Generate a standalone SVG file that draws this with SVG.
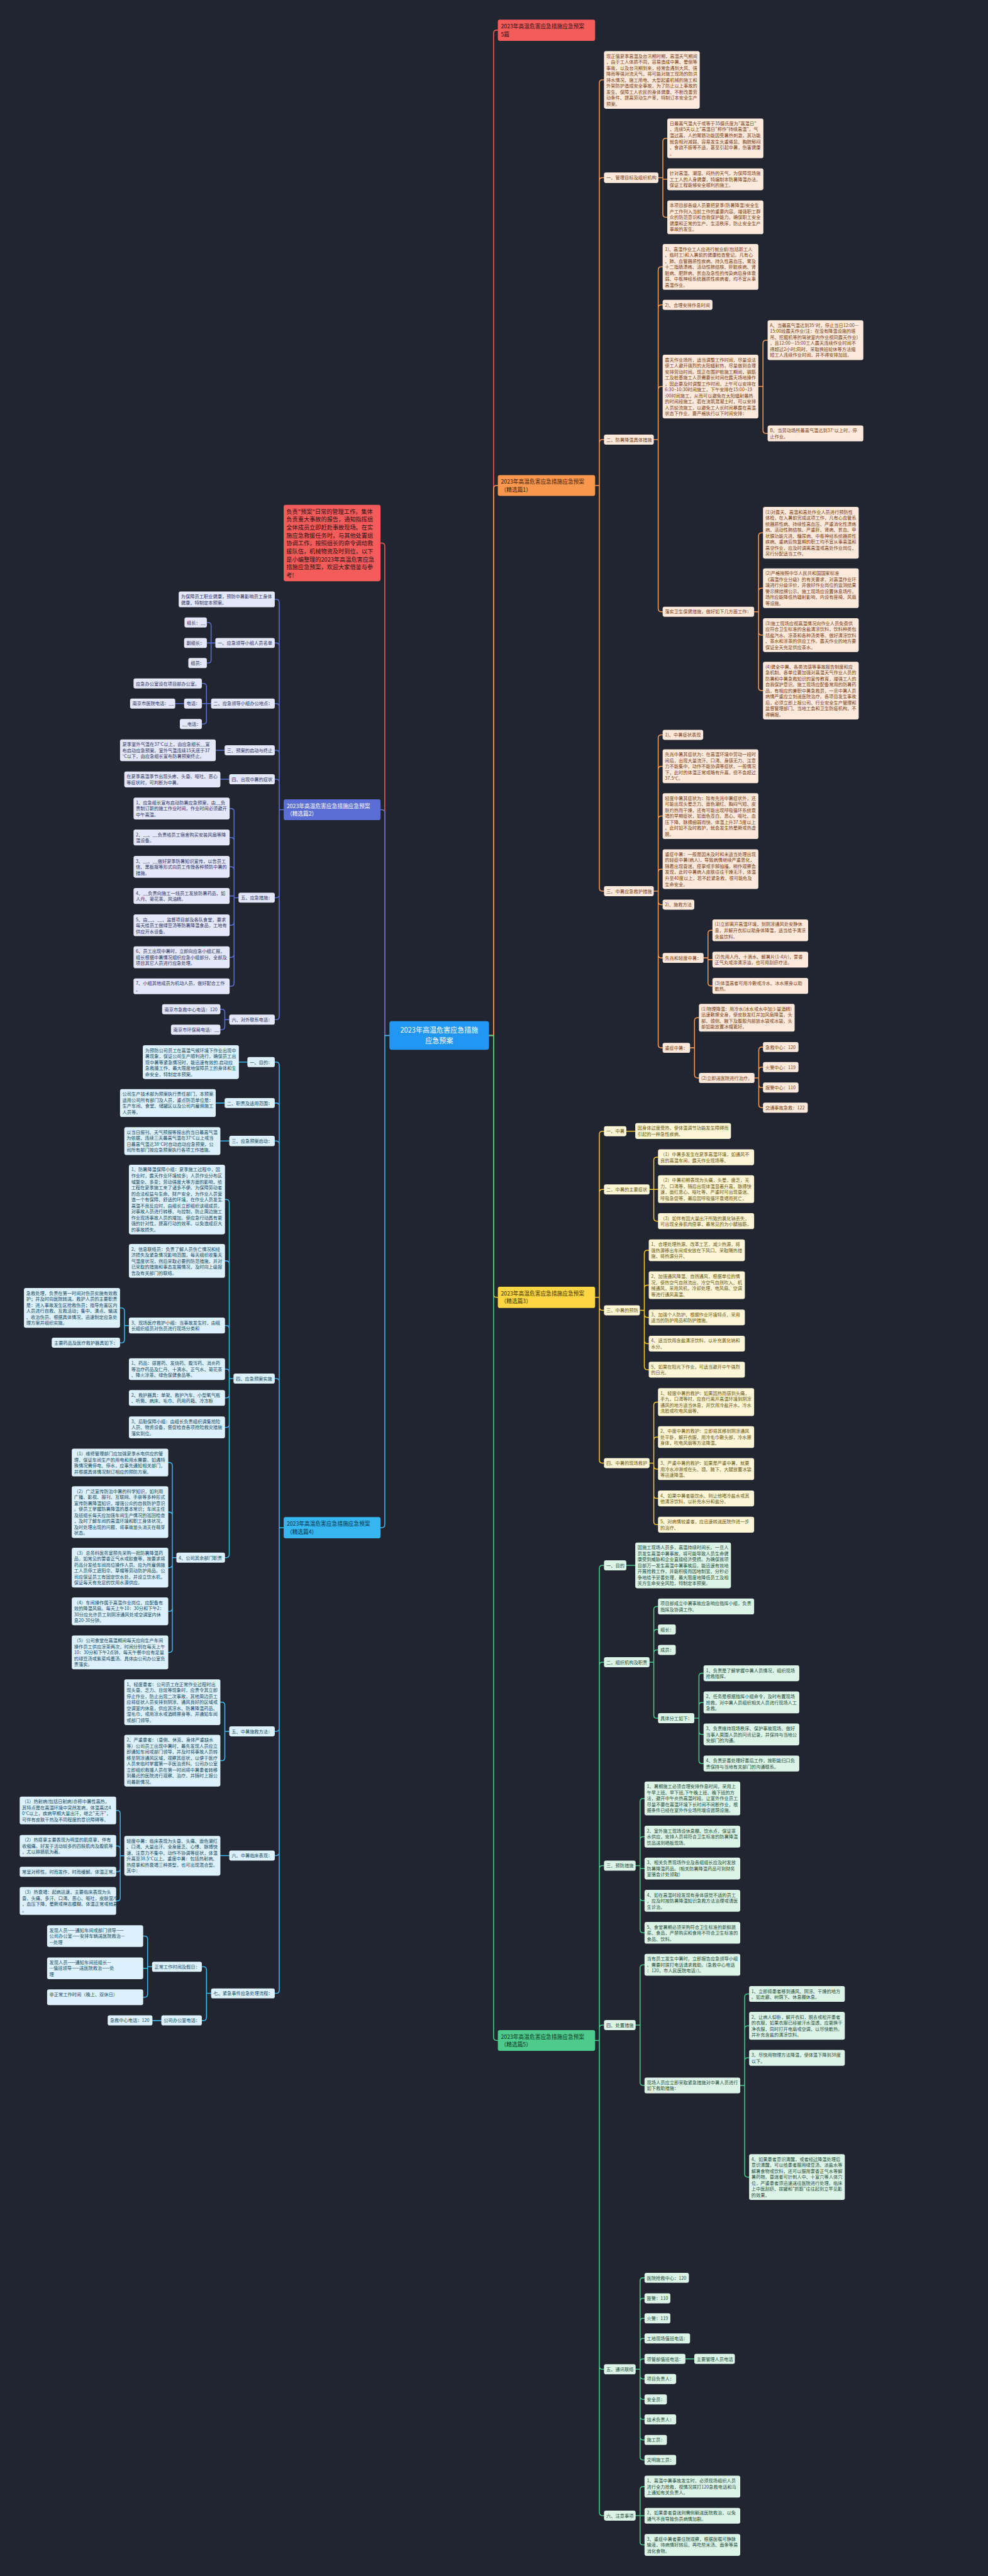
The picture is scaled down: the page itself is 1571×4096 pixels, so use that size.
<svg xmlns="http://www.w3.org/2000/svg" width="1571" height="4096" viewBox="0 0 1571 4096">
<style>
text{font-family:"Noto Sans CJK SC","Noto Sans",sans-serif;font-size:11.8px}
.o rect{fill:#fde9db}.o text{fill:#7a3d14}
.y rect{fill:#fdf5d5}.y text{fill:#6b5812}
.g rect{fill:#dcf4e8}.g text{fill:#1f4d38}
.p rect{fill:#e4e7f7}.p text{fill:#2d3466}
.l rect{fill:#dcf1fb}.l text{fill:#174a62}
.top text{font-size:14.2px}
.c path{fill:none;stroke-width:2.5;stroke-linecap:round}
.cr{stroke:#f25a5a}.co{stroke:#f39a5a}.cy{stroke:#f2c531}.cg{stroke:#4ac98e}.cp{stroke:#5c6fd6}.cl{stroke:#3db7f0}
</style>
<rect width="1571" height="4096" fill="#21252f"/>
<g transform="scale(0.61367)">
<g id="connectors" class="c">
<path class="cr" d="M1267 2683H1279V86Q1279 78 1287 78H1290"/>
<path class="co" d="M1267 2683H1279V1266Q1279 1258 1287 1258H1290"/>
<path class="cy" d="M1267 2683H1279V3353.5Q1279 3361.5 1287 3361.5H1290"/>
<path class="cg" d="M1267 2683H1279V5279Q1279 5287 1287 5287H1290"/>
<path class="cr" d="M1009 2683H997V1415Q997 1407 989 1407H986"/>
<path class="cp" d="M1009 2683H997V2106Q997 2098 989 2098H986"/>
<path class="cl" d="M1009 2683H997V3950.5Q997 3958.5 989 3958.5H986"/>
<path class="co" d="M1542 1258H1553M1553 1258V215Q1553 207 1561 207H1565M1553 1258V468.5Q1553 460.5 1561 460.5H1565M1553 1258V1147Q1553 1139 1561 1139H1565M1553 1258V2301Q1553 2309 1561 2309H1565"/>
<path class="co" d="M1706 460.5H1717.5M1717.5 460.5V366.5Q1717.5 358.5 1725.5 358.5H1729M1717.5 460.5V464.5H1729M1717.5 460.5V555Q1717.5 563 1725.5 563H1729"/>
<path class="co" d="M1694 1139H1705.5M1705.5 1139V699.5Q1705.5 691.5 1713.5 691.5H1717M1705.5 1139V798Q1705.5 790 1713.5 790H1717M1705.5 1139V1009.5Q1705.5 1001.5 1713.5 1001.5H1717M1705.5 1139V1577Q1705.5 1585 1713.5 1585H1717"/>
<path class="co" d="M1965 1001.5H1977M1977 1001.5V889.5Q1977 881.5 1985 881.5H1989M1977 1001.5V1115Q1977 1123 1985 1123H1989"/>
<path class="co" d="M1954 1585H1965.5M1965.5 1585V1388.5Q1965.5 1380.5 1973.5 1380.5H1977M1965.5 1585V1532Q1965.5 1524 1973.5 1524H1977M1965.5 1585V1637.5Q1965.5 1645.5 1973.5 1645.5H1977M1965.5 1585V1781.5Q1965.5 1789.5 1973.5 1789.5H1977"/>
<path class="co" d="M1694 2309H1705.5M1705.5 2309V1912Q1705.5 1904 1713.5 1904H1717M1705.5 2309V1993.5Q1705.5 1985.5 1713.5 1985.5H1717M1705.5 2309V2122.5Q1705.5 2114.5 1713.5 2114.5H1717M1705.5 2309V2260Q1705.5 2252 1713.5 2252H1717M1705.5 2309V2336Q1705.5 2344 1713.5 2344H1717M1705.5 2309V2474Q1705.5 2482 1713.5 2482H1717M1705.5 2309V2707Q1705.5 2715 1713.5 2715H1717"/>
<path class="co" d="M1823 2482H1834.5M1834.5 2482V2418.5Q1834.5 2410.5 1842.5 2410.5H1846M1834.5 2482V2486.5H1846M1834.5 2482V2546.5Q1834.5 2554.5 1842.5 2554.5H1846"/>
<path class="co" d="M1788 2715H1799.5M1799.5 2715V2645Q1799.5 2637 1807.5 2637H1811M1799.5 2715V2785Q1799.5 2793 1807.5 2793H1811"/>
<path class="co" d="M1955 2793H1966M1966 2793V2721Q1966 2713 1974 2713H1977M1966 2793V2773Q1966 2765 1974 2765H1977M1966 2793V2810Q1966 2818 1974 2818H1977M1966 2793V2862Q1966 2870 1974 2870H1977"/>
<path class="cy" d="M1542 3361.5H1553M1553 3361.5V2939Q1553 2931 1561 2931H1565M1553 3361.5V3090Q1553 3082 1561 3082H1565M1553 3361.5V3387Q1553 3395 1561 3395H1565M1553 3361.5V3783Q1553 3791 1561 3791H1565"/>
<path class="cy" d="M1623 2931H1646"/>
<path class="cy" d="M1683 3082H1694M1694 3082V3006.5Q1694 2998.5 1702 2998.5H1705M1694 3082H1705M1694 3082V3156Q1694 3164 1702 3164H1705"/>
<path class="cy" d="M1658 3395H1669.5M1669.5 3395V3247.5Q1669.5 3239.5 1677.5 3239.5H1681M1669.5 3395V3338Q1669.5 3330 1677.5 3330H1681M1669.5 3395V3405.5Q1669.5 3413.5 1677.5 3413.5H1681M1669.5 3395V3473.5Q1669.5 3481.5 1677.5 3481.5H1681M1669.5 3395V3541Q1669.5 3549 1677.5 3549H1681"/>
<path class="cy" d="M1683 3791H1694M1694 3791V3641Q1694 3633 1702 3633H1705M1694 3791V3731.5Q1694 3723.5 1702 3723.5H1705M1694 3791V3798.5Q1694 3806.5 1702 3806.5H1705M1694 3791V3874.5Q1694 3882.5 1702 3882.5H1705M1694 3791V3942.5Q1694 3950.5 1702 3950.5H1705"/>
<path class="cg" d="M1542 5287H1553M1553 5287V4064Q1553 4056 1561 4056H1565M1553 5287V4315Q1553 4307 1561 4307H1565M1553 5287V4842Q1553 4834 1561 4834H1565M1553 5287V5255Q1553 5247 1561 5247H1565M1553 5287V6131Q1553 6139 1561 6139H1565M1553 5287V6510Q1553 6518 1561 6518H1565"/>
<path class="cg" d="M1623 4056H1646"/>
<path class="cg" d="M1683 4307H1694M1694 4307V4170.5Q1694 4162.5 1702 4162.5H1705M1694 4307V4230Q1694 4222 1702 4222H1705M1694 4307V4283Q1694 4275 1702 4275H1705M1694 4307V4444Q1694 4452 1702 4452H1705"/>
<path class="cg" d="M1799 4452H1811M1811 4452V4343.5Q1811 4335.5 1819 4335.5H1823M1811 4452V4419Q1811 4411 1819 4411H1823M1811 4452V4486Q1811 4494 1819 4494H1823M1811 4452V4561.5Q1811 4569.5 1819 4569.5H1823"/>
<path class="cg" d="M1647 4834H1658.5M1658.5 4834V4668Q1658.5 4660 1666.5 4660H1670M1658.5 4834V4767Q1658.5 4759 1666.5 4759H1670M1658.5 4834V4841.5H1670M1658.5 4834V4917Q1658.5 4925 1666.5 4925H1670M1658.5 4834V5000Q1658.5 5008 1666.5 5008H1670"/>
<path class="cg" d="M1647 5247H1658.5M1658.5 5247V5099Q1658.5 5091 1666.5 5091H1670M1658.5 5247V5395.5Q1658.5 5403.5 1666.5 5403.5H1670"/>
<path class="cg" d="M1918 5403.5H1929.5M1929.5 5403.5V5174.5Q1929.5 5166.5 1937.5 5166.5H1941M1929.5 5403.5V5257Q1929.5 5249 1937.5 5249H1941M1929.5 5403.5V5340Q1929.5 5332 1937.5 5332H1941M1929.5 5403.5V5633Q1929.5 5641 1937.5 5641H1941"/>
<path class="cg" d="M1647 6139H1658.5M1658.5 6139V5910Q1658.5 5902 1666.5 5902H1670M1658.5 6139V5963Q1658.5 5955 1666.5 5955H1670M1658.5 6139V6015Q1658.5 6007 1666.5 6007H1670M1658.5 6139V6067Q1658.5 6059 1666.5 6059H1670M1658.5 6139V6120Q1658.5 6112 1666.5 6112H1670M1658.5 6139V6156Q1658.5 6164 1666.5 6164H1670M1658.5 6139V6209Q1658.5 6217 1666.5 6217H1670M1658.5 6139V6261Q1658.5 6269 1666.5 6269H1670M1658.5 6139V6314Q1658.5 6322 1666.5 6322H1670M1658.5 6139V6366Q1658.5 6374 1666.5 6374H1670"/>
<path class="cg" d="M1776 6112H1799"/>
<path class="cg" d="M1647 6518H1658.5M1658.5 6518V6451Q1658.5 6443 1666.5 6443H1670M1658.5 6518V6518.5H1670M1658.5 6518V6586Q1658.5 6594 1666.5 6594H1670"/>
<path class="cp" d="M735 2098H723.5M723.5 2098V1561Q723.5 1553 715.5 1553H712M723.5 2098V1674Q723.5 1666 715.5 1666H712M723.5 2098V1831Q723.5 1823 715.5 1823H712M723.5 2098V1952Q723.5 1944 715.5 1944H712M723.5 2098V2027Q723.5 2019 715.5 2019H712M723.5 2098V2318Q723.5 2326 715.5 2326H712M723.5 2098V2634Q723.5 2642 715.5 2642H712"/>
<path class="cp" d="M558 1666H547M547 1666V1621Q547 1613 539 1613H536M547 1666H536M547 1666V1710Q547 1718 539 1718H536"/>
<path class="cp" d="M547 1823H535M535 1823V1779Q535 1771 527 1771H523M535 1823H523M535 1823V1868Q535 1876 527 1876H523"/>
<path class="cp" d="M477 1823H454M582 1944H559M594 2019H571"/>
<path class="cp" d="M618 2326H606.5M606.5 2326V2103Q606.5 2095 598.5 2095H595M606.5 2326V2178Q606.5 2170 598.5 2170H595M606.5 2326V2254Q606.5 2246 598.5 2246H595M606.5 2326V2321.5H595M606.5 2326V2389.5Q606.5 2397.5 598.5 2397.5H595M606.5 2326V2472.5Q606.5 2480.5 598.5 2480.5H595M606.5 2326V2547.5Q606.5 2555.5 598.5 2555.5H595"/>
<path class="cp" d="M594 2642H582.5M582.5 2642V2623Q582.5 2615 574.5 2615H571M582.5 2642V2660Q582.5 2668 574.5 2668H571"/>
<path class="cl" d="M735 3958.5H723.5M723.5 3958.5V2760Q723.5 2752 715.5 2752H712M723.5 3958.5V2866Q723.5 2858 715.5 2858H712M723.5 3958.5V2964.5Q723.5 2956.5 715.5 2956.5H712M723.5 3958.5V3580Q723.5 3572 715.5 3572H712M723.5 3958.5V4478Q723.5 4486 715.5 4486H712M723.5 3958.5V4800Q723.5 4808 715.5 4808H712M723.5 3958.5V5157Q723.5 5165 715.5 5165H712"/>
<path class="cl" d="M641 2752H619M582 2858H559M594 2956.5H571M594 4808H571"/>
<path class="cl" d="M605 3572H594M594 3572V3116Q594 3108 586 3108H583M594 3572V3275Q594 3267 586 3267H583M594 3572V3442.5Q594 3434.5 586 3434.5H583M594 3572V3555.5Q594 3547.5 586 3547.5H583M594 3572V3614Q594 3622 586 3622H583M594 3572V3690.5Q594 3698.5 586 3698.5H583M594 3572V4028Q594 4036 586 4036H583"/>
<path class="cl" d="M334 3434.5H322.5M322.5 3434.5V3397Q322.5 3389 314.5 3389H311M322.5 3434.5V3471.5Q322.5 3479.5 314.5 3479.5H311"/>
<path class="cl" d="M457 4036H446.5M446.5 4036V3797.5Q446.5 3789.5 438.5 3789.5H436M446.5 4036V3926Q446.5 3918 438.5 3918H436M446.5 4036V4054Q446.5 4062 438.5 4062H436M446.5 4036V4167Q446.5 4175 438.5 4175H436M446.5 4036V4273.5Q446.5 4281.5 438.5 4281.5H436"/>
<path class="cl" d="M594 4486H582.5M582.5 4486V4418.5Q582.5 4410.5 574.5 4410.5H571M582.5 4486V4554Q582.5 4562 574.5 4562H571"/>
<path class="cl" d="M322 4808.5H311.5M311.5 4808.5V4699Q311.5 4691 303.5 4691H301M311.5 4808.5V4791Q311.5 4783 303.5 4783H301M311.5 4808.5V4842Q311.5 4850 303.5 4850H301M311.5 4808.5V4917.5Q311.5 4925.5 303.5 4925.5H301"/>
<path class="cl" d="M547 5165H535M535 5165V5104Q535 5096 527 5096H523M535 5165V5227.5Q535 5235.5 527 5235.5H523"/>
<path class="cl" d="M394 5096H382.5M382.5 5096V5024.5Q382.5 5016.5 374.5 5016.5H371M382.5 5096V5100H371M382.5 5096V5167Q382.5 5175 374.5 5175H371"/>
<path class="cl" d="M418 5235.5H395"/>
</g>

<g id="center" transform="translate(1009 2646)"><rect width="258" height="74" rx="6" fill="#2196f3"/><text x="129" y="30.5" text-anchor="middle" fill="#fff" style="font-size:18px">2023年高温危害应急措施<tspan x="129" dy="27.5">应急预案</tspan></text></g>

<g id="top5" class="top" transform="translate(1290 51)"><rect width="252" height="55" rx="5" fill="#f45b5b"/><text x="8" y="22.8" fill="#2a1212">2023年高温危害应急措施应急预案<tspan x="8" dy="20">5篇</tspan></text></g>
<g id="desc" transform="translate(735 1308)"><rect width="251" height="198" rx="5" fill="#f45b5b"/><text x="7" y="23" fill="#2a1212" style="font-size:15px">负责"预案"日常的管理工作，集体<tspan x="7" dy="20.6">负责重大事故的报告，通知指挥组</tspan><tspan x="7" dy="20.6">全体成员立即赶赴事故现场。在实</tspan><tspan x="7" dy="20.6">施应急救援任务时，与其他处置组</tspan><tspan x="7" dy="20.6">协调工作，按照组长的命令调动救</tspan><tspan x="7" dy="20.6">援队伍，机械物资及时到位，以下</tspan><tspan x="7" dy="20.6">是小编整理的2023年高温危害应急</tspan><tspan x="7" dy="20.6">措施应急预案，欢迎大家借鉴与参</tspan><tspan x="7" dy="20.6">考!</tspan></text></g>

<g id="pian1" class="top" transform="translate(1290 1231)"><rect width="252" height="54" rx="5" fill="#f9974f"/><text x="8" y="22.5" fill="#3a1c08">2023年高温危害应急措施应急预案<tspan x="8" dy="20">（精选篇1）</tspan></text></g>
<g id="pian3" class="top" transform="translate(1290 3334)"><rect width="252" height="55" rx="5" fill="#fed643"/><text x="8" y="22.8" fill="#3a3000">2023年高温危害应急措施应急预案<tspan x="8" dy="20">（精选篇3）</tspan></text></g>
<g id="pian5" class="top" transform="translate(1290 5260)"><rect width="252" height="54" rx="5" fill="#4dca8c"/><text x="8" y="22.5" fill="#0f3322">2023年高温危害应急措施应急预案<tspan x="8" dy="20">（精选篇5）</tspan></text></g>
<g id="pian2" class="top" transform="translate(735 2071)"><rect width="251" height="54" rx="5" fill="#5b6ed6"/><text x="8" y="22.5" fill="#ffffff">2023年高温危害应急措施应急预案<tspan x="8" dy="20">（精选篇2）</tspan></text></g>
<g id="pian4" class="top" transform="translate(735 3931)"><rect width="251" height="55" rx="5" fill="#35b6f0"/><text x="8" y="22.8" fill="#0d2f40">2023年高温危害应急措施应急预案<tspan x="8" dy="20">（精选篇4）</tspan></text></g>

<g id="O1" class="o" transform="translate(1565 132.25)"><rect width="248" height="149.5" rx="5"/><text x="6" y="17.25">现正值夏季高温及台汛期时期，高温天气期间<tspan x="6" dy="15.5">，由于工人体质不同，容易造成中暑、晕倒等</tspan><tspan x="6" dy="15.5">事故，以及台汛期到来，经常会遇到大风、强</tspan><tspan x="6" dy="15.5">降雨等强对流天气，将可能对施工现场的防洪</tspan><tspan x="6" dy="15.5">排水情况、施工用电、大型起重机械的施工和</tspan><tspan x="6" dy="15.5">外架防护造成安全事故，为了防止以上事故的</tspan><tspan x="6" dy="15.5">发生、保障工人农民的身体健康、不断改善劳</tspan><tspan x="6" dy="15.5">动条件、提高劳动生产率，特制订本安全生产</tspan><tspan x="6" dy="15.5">预案。</tspan></text></g>
<g id="O2" class="o" transform="translate(1565 447)"><rect width="141" height="27" rx="5"/><text x="6" y="18">一、管理目标及组织机构</text></g>
<g id="O2a" class="o" transform="translate(1729 307)"><rect width="249" height="103" rx="5"/><text x="6" y="17.25">日最高气温大于或等于35摄氏度为"高温日"<tspan x="6" dy="15.5">，连续5天以上"高温日"称作"持续高温"。气</tspan><tspan x="6" dy="15.5">温过高，人的胃肠功能因受暑热刺激，其功能</tspan><tspan x="6" dy="15.5">就会相对减弱，容易发生头重倦怠、胸脘郁闷</tspan><tspan x="6" dy="15.5">、食欲不振等不适，甚至引起中暑，伤害健康</tspan><tspan x="6" dy="15.5">。</tspan></text></g>
<g id="O2b" class="o" transform="translate(1729 436.25)"><rect width="249" height="56.5" rx="5"/><text x="6" y="17.25">针对高温、潮湿、闷热的天气，为保障现场施<tspan x="6" dy="15.5">工工人的人身健康，特编制本防暑降温办法。</tspan><tspan x="6" dy="15.5">保证工程能够安全顺利的施工。</tspan></text></g>
<g id="O2c" class="o" transform="translate(1729 519.25)"><rect width="249" height="87.5" rx="5"/><text x="6" y="17.25">本项目部各级人员要把夏季(防暑降温)安全生<tspan x="6" dy="15.5">产工作列入当前工作的重要内容。增强职工群</tspan><tspan x="6" dy="15.5">众的防范意识和自我保护能力。确保职工安全</tspan><tspan x="6" dy="15.5">健康和正常的生产、生活秩序，防止安全生产</tspan><tspan x="6" dy="15.5">事故的发生。</tspan></text></g>
<g id="O3" class="o" transform="translate(1565 1126)"><rect width="129" height="26" rx="5"/><text x="6" y="17.5">二、防暑降温具体措施</text></g>
<g id="O3a" class="o" transform="translate(1717 632.25)"><rect width="248" height="118.5" rx="5"/><text x="6" y="17.25">1)、高温作业工人应进行就业前(包括新工人<tspan x="6" dy="15.5">、临时工)和入暑前的健康检查登记。凡有心</tspan><tspan x="6" dy="15.5">、肺、血管器质性疾病、持久性高血压、胃及</tspan><tspan x="6" dy="15.5">十二指肠溃疡、活动性肺结核、肝脏疾病、肾</tspan><tspan x="6" dy="15.5">脏病、肥胖病、贫血及急性的传染病后身体衰</tspan><tspan x="6" dy="15.5">弱、中枢神经系统器质性疾病者，均不宜从事</tspan><tspan x="6" dy="15.5">高温作业。</tspan></text></g>
<g id="O3b" class="o" transform="translate(1717 777)"><rect width="129" height="26" rx="5"/><text x="6" y="17.5">2)、合理安排作息时间</text></g>
<g id="O3c" class="o" transform="translate(1717 919)"><rect width="248" height="165" rx="5"/><text x="6" y="17.25">露天作业场所，适当调整工作时间，尽量设法<tspan x="6" dy="15.5">使工人避开强烈的太阳辐射热，尽量做到合理</tspan><tspan x="6" dy="15.5">安排劳动时间。现正在围护桩施工期间，钢筋</tspan><tspan x="6" dy="15.5">工及桩基施工人员需要长时间在露天场地操作</tspan><tspan x="6" dy="15.5">，因此要及时调整工作时间，上午可以安排在</tspan><tspan x="6" dy="15.5">6:30~10:30时间施工，下午安排在15:00~19</tspan><tspan x="6" dy="15.5">:00时间施工，从而可以避免在太阳辐射最热</tspan><tspan x="6" dy="15.5">的时间段施工。若在浇筑混凝土时，可以安排</tspan><tspan x="6" dy="15.5">人员轮流施工，以避免工人长时间暴露在高温</tspan><tspan x="6" dy="15.5">状态下作业。要严格执行以下时间安排：</tspan></text></g>
<g id="O3c1" class="o" transform="translate(1989 830)"><rect width="248" height="103" rx="5"/><text x="6" y="17.25">A、当最高气温达到35°时，停止当日12:00—<tspan x="6" dy="15.5">15:00段露天作业(注：在没有降温设施的塔</tspan><tspan x="6" dy="15.5">吊、挖掘机等的驾驶室内作业视同露天作业)</tspan><tspan x="6" dy="15.5">，且12:00—15:00工人露天连续作业时间不</tspan><tspan x="6" dy="15.5">得超过2小时;同时，采取换班轮休等方法缩</tspan><tspan x="6" dy="15.5">短工人连续作业时间，并不得安排加班。</tspan></text></g>
<g id="O3c2" class="o" transform="translate(1989 1102.5)"><rect width="248" height="41" rx="5"/><text x="6" y="17.25">B、当劳动场所最高气温达到37°以上时，停<tspan x="6" dy="15.5">止作业。</tspan></text></g>
<g id="O3d" class="o" transform="translate(1717 1572)"><rect width="237" height="26" rx="5"/><text x="6" y="17.5">落实卫生保健措施，做好如下几方面工作：</text></g>
<g id="O3d1" class="o" transform="translate(1977 1313.5)"><rect width="248" height="134" rx="5"/><text x="6" y="17.25">(1)对露天、高温和高处作业人员进行预防性<tspan x="6" dy="15.5">体检，在入暑前完成这项工作，凡有心血管系</tspan><tspan x="6" dy="15.5">统器质性病、持续性高血压、严重消化性溃疡</tspan><tspan x="6" dy="15.5">病、活动性肺结核、严重肝、肾病、贫血、甲</tspan><tspan x="6" dy="15.5">状腺功能亢进、糖尿病、中枢神经系统器质性</tspan><tspan x="6" dy="15.5">疾病、重病后恢复期的职工均不宜从事高温和</tspan><tspan x="6" dy="15.5">高空作业，应及时调离高温或高处作业岗位，</tspan><tspan x="6" dy="15.5">另行分配适当工作。</tspan></text></g>
<g id="O3d2" class="o" transform="translate(1977 1472.5)"><rect width="248" height="103" rx="5"/><text x="6" y="17.25">(2)严格按照中华人民共和国国家标准<tspan x="6" dy="15.5">《高温作业分级》的有关要求，对高温作业环</tspan><tspan x="6" dy="15.5">境进行分级评价，并做好作业岗位的监测结果</tspan><tspan x="6" dy="15.5">警示牌挂牌公示。施工现场应设置休息场所，</tspan><tspan x="6" dy="15.5">场所应能降低热辐射影响，内设有座椅、风扇</tspan><tspan x="6" dy="15.5">等设施。</tspan></text></g>
<g id="O3d3" class="o" transform="translate(1977 1601.75)"><rect width="248" height="87.5" rx="5"/><text x="6" y="17.25">(3)施工现场应视高温情况向作业人员免费供<tspan x="6" dy="15.5">应符合卫生标准的含盐清凉饮料，饮料种类包</tspan><tspan x="6" dy="15.5">括盐汽水、凉茶和各种汤类等。做好清凉饮料</tspan><tspan x="6" dy="15.5">、茶水和凉茶的供应工作。露天作业的地方要</tspan><tspan x="6" dy="15.5">保证全天充足供应茶水。</tspan></text></g>
<g id="O3d4" class="o" transform="translate(1977 1714.75)"><rect width="248" height="149.5" rx="5"/><text x="6" y="17.25">(4)健全中暑、各类流感等事故报告制度和应<tspan x="6" dy="15.5">急机制。各单位要加强对高温天气作业人员的</tspan><tspan x="6" dy="15.5">防暑和中暑急救知识的宣传教育，增强工人的</tspan><tspan x="6" dy="15.5">自我保护意识。施工现场应配备常用的防暑药</tspan><tspan x="6" dy="15.5">品，有相应的兼职中暑急救员，一旦中暑人员</tspan><tspan x="6" dy="15.5">病情严重应立刻送医院治疗。各项目发生事故</tspan><tspan x="6" dy="15.5">后，必须立即上报公司、行业安全生产管理和</tspan><tspan x="6" dy="15.5">监督管理部门、当地工会和卫生防疫机构，不</tspan><tspan x="6" dy="15.5">得瞒报。</tspan></text></g>
<g id="O4" class="o" transform="translate(1565 2296)"><rect width="129" height="26" rx="5"/><text x="6" y="17.5">三、中暑应急救护措施</text></g>
<g id="O4a" class="o" transform="translate(1717 1891)"><rect width="105" height="26" rx="5"/><text x="6" y="17.5">1)、中暑症状表现</text></g>
<g id="O4b" class="o" transform="translate(1717 1941.75)"><rect width="248" height="87.5" rx="5"/><text x="6" y="17.25">先兆中暑其症状为：在高温环境中劳动一段时<tspan x="6" dy="15.5">间后，出现大量流汗、口渴、身感无力、注意</tspan><tspan x="6" dy="15.5">力不能集中，动作不能协调等症状，一般情况</tspan><tspan x="6" dy="15.5">下，此时的体温正常或略有升高，但不会超过</tspan><tspan x="6" dy="15.5">37.5℃。</tspan></text></g>
<g id="O4c" class="o" transform="translate(1717 2055.25)"><rect width="248" height="118.5" rx="5"/><text x="6" y="17.25">轻度中暑其症状为：除有先兆中暑症状外，还<tspan x="6" dy="15.5">可能出现头晕乏力、面色潮红、胸闷气短、皮</tspan><tspan x="6" dy="15.5">肤灼热而干燥，还有可能出现呼吸循环系统衰</tspan><tspan x="6" dy="15.5">竭的早期症状，如面色苍白、恶心、呕吐、血</tspan><tspan x="6" dy="15.5">压下降、脉搏细弱而快、体温上升37.5度以上</tspan><tspan x="6" dy="15.5">。此时如不及时救护，就会发生热晕厥或热虚</tspan><tspan x="6" dy="15.5">脱。</tspan></text></g>
<g id="O4d" class="o" transform="translate(1717 2200.5)"><rect width="248" height="103" rx="5"/><text x="6" y="17.25">重症中暑：一般是因未及时和未适当处理出现<tspan x="6" dy="15.5">的轻症中暑(病人)，导致病情继续严重恶化，</tspan><tspan x="6" dy="15.5">随着出现昏迷、痉挛或手脚抽搐。稍作观察会</tspan><tspan x="6" dy="15.5">发现，此时中暑病人皮肤往往干燥无汗，体温</tspan><tspan x="6" dy="15.5">升至40度以上，若不赶紧急救，很可能危及</tspan><tspan x="6" dy="15.5">生命安全。</tspan></text></g>
<g id="O4e" class="o" transform="translate(1717 2331)"><rect width="82" height="26" rx="5"/><text x="6" y="17.5">2)、施救方法</text></g>
<g id="O4f" class="o" transform="translate(1717 2469)"><rect width="106" height="26" rx="5"/><text x="6" y="17.5">先兆和轻度中暑：</text></g>
<g id="O4f1" class="o" transform="translate(1846 2382.25)"><rect width="248" height="56.5" rx="5"/><text x="6" y="17.25">(1)立即离开高温环境，到阴凉通风处安静休<tspan x="6" dy="15.5">息，并解开衣扣以助身体降温，适当给予清凉</tspan><tspan x="6" dy="15.5">含盐饮料。</tspan></text></g>
<g id="O4f2" class="o" transform="translate(1846 2466)"><rect width="248" height="41" rx="5"/><text x="6" y="17.25">(2)先用人丹、十滴水、解暑片(1-4片)，藿香<tspan x="6" dy="15.5">正气丸或涂清凉油，也可用刮痧疗法。</tspan></text></g>
<g id="O4f3" class="o" transform="translate(1846 2534)"><rect width="248" height="41" rx="5"/><text x="6" y="17.25">(3)体温高者可用冷敷或冷水、冰水擦身以助<tspan x="6" dy="15.5">散热。</tspan></text></g>
<g id="O4g" class="o" transform="translate(1717 2702)"><rect width="71" height="26" rx="5"/><text x="6" y="17.5">重症中暑：</text></g>
<g id="O4g1" class="o" transform="translate(1811 2601)"><rect width="248" height="72" rx="5"/><text x="6" y="17.25">(1)物理降温：用冷水(冰水或水中加少量酒精)<tspan x="6" dy="15.5">迅速敷擦全身，使皮肤发红并加风扇降温，头</tspan><tspan x="6" dy="15.5">部、颈侧、腋下及腹股沟部放水袋或冰袋，头</tspan><tspan x="6" dy="15.5">部如能放置冰帽更好。</tspan></text></g>
<g id="O4g2" class="o" transform="translate(1811 2780)"><rect width="144" height="26" rx="5"/><text x="6" y="17.5">(2)立即送医院进行治疗。</text></g>
<g id="O4g2a" class="o" transform="translate(1977 2700)"><rect width="92" height="26" rx="5"/><text x="6" y="17.5">急救中心：120</text></g>
<g id="O4g2b" class="o" transform="translate(1977 2752)"><rect width="92" height="26" rx="5"/><text x="6" y="17.5">火警中心：119</text></g>
<g id="O4g2c" class="o" transform="translate(1977 2805)"><rect width="92" height="26" rx="5"/><text x="6" y="17.5">报警中心：110</text></g>
<g id="O4g2d" class="o" transform="translate(1977 2857)"><rect width="116" height="26" rx="5"/><text x="6" y="17.5">交通事故急救：122</text></g>

<g id="Y1" class="y" transform="translate(1565 2918)"><rect width="58" height="26" rx="5"/><text x="6" y="17.5">一、中暑</text></g>
<g id="Y1a" class="y" transform="translate(1646 2910)"><rect width="248" height="41" rx="5"/><text x="6" y="17.25">因身体过度受热，使体温调节功能发生障碍而<tspan x="6" dy="15.5">引起的一种急性疾病、</tspan></text></g>
<g id="Y2" class="y" transform="translate(1565 3069)"><rect width="118" height="26" rx="5"/><text x="6" y="17.5">二、中暑的主要症状</text></g>
<g id="Y2a" class="y" transform="translate(1705 2978)"><rect width="249" height="41" rx="5"/><text x="6" y="17.25">（1）中暑多发生在夏季高温环境，如通风不<tspan x="6" dy="15.5">良的高温车间，露天作业现场等、</tspan></text></g>
<g id="Y2b" class="y" transform="translate(1705 3045)"><rect width="249" height="72" rx="5"/><text x="6" y="17.25">（2）中暑初期表现为头痛，头晕，疲乏，无<tspan x="6" dy="15.5">力、口渴等，随后出现体温显著升高，脉搏快</tspan><tspan x="6" dy="15.5">速，面红恶心、呕吐等、严重时可出现昏迷、</tspan><tspan x="6" dy="15.5">呼吸急促等，最后因呼吸循环衰竭而死亡、</tspan></text></g>
<g id="Y2c" class="y" transform="translate(1705 3143.5)"><rect width="249" height="41" rx="5"/><text x="6" y="17.25">（3）如伴有因大量出汗所致的氯化钠丢失，<tspan x="6" dy="15.5">可出现全身肌肉痉挛，最常见的为小腿抽筋，</tspan></text></g>
<g id="Y3" class="y" transform="translate(1565 3382)"><rect width="93" height="26" rx="5"/><text x="6" y="17.5">三、中暑的预防</text></g>
<g id="Y3a" class="y" transform="translate(1681 3211.25)"><rect width="249" height="56.5" rx="5"/><text x="6" y="17.25">1、合理处理热源、改革工艺，减少热源，将<tspan x="6" dy="15.5">强热源移出车间或安放在下风口、采取隔热措</tspan><tspan x="6" dy="15.5">施，将热源分开、</tspan></text></g>
<g id="Y3b" class="y" transform="translate(1681 3294)"><rect width="249" height="72" rx="5"/><text x="6" y="17.25">2、加强通风降温、自然通风，根据单位的情<tspan x="6" dy="15.5">况，使热空气自然流出，冷空气自然吹入、机</tspan><tspan x="6" dy="15.5">械通风，采用风机，冷却处理，电风扇、空调</tspan><tspan x="6" dy="15.5">等进行通风高温、</tspan></text></g>
<g id="Y3c" class="y" transform="translate(1681 3393)"><rect width="249" height="41" rx="5"/><text x="6" y="17.25">3、加强个人防护、根据作业环境特点，采用<tspan x="6" dy="15.5">适当的防护用品和防护措施、</tspan></text></g>
<g id="Y3d" class="y" transform="translate(1681 3461)"><rect width="249" height="41" rx="5"/><text x="6" y="17.25">4、适当饮用含盐清凉饮料，以补充氯化纳和<tspan x="6" dy="15.5">水分、</tspan></text></g>
<g id="Y3e" class="y" transform="translate(1681 3528.5)"><rect width="249" height="41" rx="5"/><text x="6" y="17.25">5、如果在阳光下作业，可适当避开中午强烈<tspan x="6" dy="15.5">的日光、</tspan></text></g>
<g id="Y4" class="y" transform="translate(1565 3778)"><rect width="118" height="26" rx="5"/><text x="6" y="17.5">四、中暑的现场救护</text></g>
<g id="Y4a" class="y" transform="translate(1705 3597)"><rect width="249" height="72" rx="5"/><text x="6" y="17.25">1、轻度中暑的救护：如果因热而感到头痛，<tspan x="6" dy="15.5">手九，口渴等时，应自行离开高温环境到阴凉</tspan><tspan x="6" dy="15.5">通风的地方适当休息，并饮用冷盐开水，冷水</tspan><tspan x="6" dy="15.5">洗脸或吹电风扇等、</tspan></text></g>
<g id="Y4b" class="y" transform="translate(1705 3695.25)"><rect width="249" height="56.5" rx="5"/><text x="6" y="17.25">2、中度中暑的救护：立即将其移到阴凉通风<tspan x="6" dy="15.5">处平卧，解开衣服，用冷毛巾敷头部，冷水擦</tspan><tspan x="6" dy="15.5">身体，吹电风扇等方法降温、</tspan></text></g>
<g id="Y4c" class="y" transform="translate(1705 3778.25)"><rect width="249" height="56.5" rx="5"/><text x="6" y="17.25">3、严重中暑的救护：如果是严重中暑，就要<tspan x="6" dy="15.5">用冷水冲淋或在头、颈、腋下、大腿放置冰袋</tspan><tspan x="6" dy="15.5">等迅速降温、</tspan></text></g>
<g id="Y4d" class="y" transform="translate(1705 3862)"><rect width="249" height="41" rx="5"/><text x="6" y="17.25">4、如果中暑者能饮水、则让他喝冷盐水或其<tspan x="6" dy="15.5">他清凉饮料，以补充水分和盐分、</tspan></text></g>
<g id="Y4e" class="y" transform="translate(1705 3930)"><rect width="249" height="41" rx="5"/><text x="6" y="17.25">5、对病情较重者，应迅速转送医院作进一步<tspan x="6" dy="15.5">的治疗、</tspan></text></g>

<g id="G1" class="g" transform="translate(1565 4043)"><rect width="58" height="26" rx="5"/><text x="6" y="17.5">一、目的</text></g>
<g id="G1a" class="g" transform="translate(1646 3996.75)"><rect width="248" height="118.5" rx="5"/><text x="6" y="17.25">因施工现场人员多，高温持续时间长。一旦人<tspan x="6" dy="15.5">员发生高温中暑事故，将可能导致人员生命健</tspan><tspan x="6" dy="15.5">康受到威胁和企业直接经济受损。为确保我项</tspan><tspan x="6" dy="15.5">目部万一发生高温中暑事故后，能迅速有效地</tspan><tspan x="6" dy="15.5">开展抢救工作，并能积极而因地制宜、分秒必</tspan><tspan x="6" dy="15.5">争地给予妥善处理，最大限度地降低员工及相</tspan><tspan x="6" dy="15.5">关方生命安全风险，特制定本预案。</tspan></text></g>
<g id="G2" class="g" transform="translate(1565 4294)"><rect width="118" height="26" rx="5"/><text x="6" y="17.5">二、组织机构及职责</text></g>
<g id="G2a" class="g" transform="translate(1705 4142)"><rect width="249" height="41" rx="5"/><text x="6" y="17.25">项目部成立中暑事故应急响应指挥小组，负责<tspan x="6" dy="15.5">指挥及协调工作。</tspan></text></g>
<g id="G2b" class="g" transform="translate(1705 4209)"><rect width="46" height="26" rx="5"/><text x="6" y="17.5">组长：</text></g>
<g id="G2c" class="g" transform="translate(1705 4262)"><rect width="46" height="26" rx="5"/><text x="6" y="17.5">成员：</text></g>
<g id="G2d" class="g" transform="translate(1705 4439)"><rect width="94" height="26" rx="5"/><text x="6" y="17.5">具体分工如下：</text></g>
<g id="G2d1" class="g" transform="translate(1823 4315)"><rect width="248" height="41" rx="5"/><text x="6" y="17.25">1、负责是了解掌握中暑人员情况，组织现场<tspan x="6" dy="15.5">抢救指挥。</tspan></text></g>
<g id="G2d2" class="g" transform="translate(1823 4382.75)"><rect width="248" height="56.5" rx="5"/><text x="6" y="17.25">2、任务是根据指挥小组命令，及时布置现场<tspan x="6" dy="15.5">抢救，对中暑人员组织相关人员进行现场人工</tspan><tspan x="6" dy="15.5">急救。</tspan></text></g>
<g id="G2d3" class="g" transform="translate(1823 4465.75)"><rect width="248" height="56.5" rx="5"/><text x="6" y="17.25">3、负责维持现场秩序、保护事故现场、做好<tspan x="6" dy="15.5">当事人周围人员的问讯记录，并保持与当地公</tspan><tspan x="6" dy="15.5">安部门的沟通。</tspan></text></g>
<g id="G2d4" class="g" transform="translate(1823 4549)"><rect width="248" height="41" rx="5"/><text x="6" y="17.25">4、负责妥善处理好善后工作，按职能归口负<tspan x="6" dy="15.5">责保持与当地有关部门的沟通联系。</tspan></text></g>
<g id="G3" class="g" transform="translate(1565 4821)"><rect width="82" height="26" rx="5"/><text x="6" y="17.5">三、预防措施</text></g>
<g id="G3a" class="g" transform="translate(1670 4616.25)"><rect width="248" height="87.5" rx="5"/><text x="6" y="17.25">1、暑期施工必须合理安排作息时间，采用上<tspan x="6" dy="15.5">午早上班、早下班,下午晚上班、晚下班的方</tspan><tspan x="6" dy="15.5">法，避开中午炎热高温时段。让室外作业员工</tspan><tspan x="6" dy="15.5">尽量不要在高温环境下长时间不间断作业，根</tspan><tspan x="6" dy="15.5">据条件已经在室外作业场所增设遮荫设施。</tspan></text></g>
<g id="G3b" class="g" transform="translate(1670 4730.75)"><rect width="248" height="56.5" rx="5"/><text x="6" y="17.25">2、室外施工现场设休息棚、饮水点，保证茶<tspan x="6" dy="15.5">水供应，安排人员将符合卫生标准的防暑降温</tspan><tspan x="6" dy="15.5">饮品送到晒板现场。</tspan></text></g>
<g id="G3c" class="g" transform="translate(1670 4813.25)"><rect width="248" height="56.5" rx="5"/><text x="6" y="17.25">3、相关负责现场作业及各组组长应及时发放<tspan x="6" dy="15.5">防暑降温药品。(相关防暑降温药品可到财务</tspan><tspan x="6" dy="15.5">室骆会计处领取)</tspan></text></g>
<g id="G3d" class="g" transform="translate(1670 4896.75)"><rect width="248" height="56.5" rx="5"/><text x="6" y="17.25">4、如在高温时段发现有身体感觉不适的员工<tspan x="6" dy="15.5">，应及时按防暑降温知识急救方法治理或请医</tspan><tspan x="6" dy="15.5">生诊治。</tspan></text></g>
<g id="G3e" class="g" transform="translate(1670 4979.75)"><rect width="248" height="56.5" rx="5"/><text x="6" y="17.25">5、食堂暑期必须采购符合卫生标准的新鲜蔬<tspan x="6" dy="15.5">菜、食品，严禁购买和食用不符合卫生标准的</tspan><tspan x="6" dy="15.5">食品、饮料。</tspan></text></g>
<g id="G4" class="g" transform="translate(1565 5234)"><rect width="82" height="26" rx="5"/><text x="6" y="17.5">四、处置措施</text></g>
<g id="G4a" class="g" transform="translate(1670 5062.75)"><rect width="248" height="56.5" rx="5"/><text x="6" y="17.25">当有员工发生中暑时，立即报告应急领导小组<tspan x="6" dy="15.5">。需要时拨打电话请求救助。(急救中心电话</tspan><tspan x="6" dy="15.5">：120，市人民医院电话：)。</tspan></text></g>
<g id="G4b" class="g" transform="translate(1670 5383)"><rect width="248" height="41" rx="5"/><text x="6" y="17.25">现场人员应立即采取紧急措施对中暑人员进行<tspan x="6" dy="15.5">如下救助措施：</tspan></text></g>
<g id="G4b1" class="g" transform="translate(1941 5146)"><rect width="248" height="41" rx="5"/><text x="6" y="17.25">1、立即将患者移到通风、阴凉、干燥的地方<tspan x="6" dy="15.5">。如走廊、树荫下、休息棚休息。</tspan></text></g>
<g id="G4b2" class="g" transform="translate(1941 5213)"><rect width="248" height="72" rx="5"/><text x="6" y="17.25">2、让病人仰卧，解开衣扣，脱去或松开患者<tspan x="6" dy="15.5">的衣服，如果衣服已经被汗水湿透，应更换干</tspan><tspan x="6" dy="15.5">净衣服，同时打开电扇或空调，以尽快散热。</tspan><tspan x="6" dy="15.5">并补充含盐的清凉饮料。</tspan></text></g>
<g id="G4b3" class="g" transform="translate(1941 5311.5)"><rect width="248" height="41" rx="5"/><text x="6" y="17.25">3、尽快用物理方法降温，使体温下降到38度<tspan x="6" dy="15.5">以下。</tspan></text></g>
<g id="G4b4" class="g" transform="translate(1941 5581.75)"><rect width="248" height="118.5" rx="5"/><text x="6" y="17.25">4、如果患者意识清醒，或者经过降温处理后<tspan x="6" dy="15.5">意识清醒，可以给患者服用绿豆汤、淡盐水等</tspan><tspan x="6" dy="15.5">解暑食物或饮料，还可以服用藿香正气水等解</tspan><tspan x="6" dy="15.5">暑药物。昏迷者可针刺人中、十宣穴等人体穴</tspan><tspan x="6" dy="15.5">位，严重患者须迅速送往医院进行处理。临床</tspan><tspan x="6" dy="15.5">上中医刮痧、拔罐和"抓筋"往往起到立竿见影</tspan><tspan x="6" dy="15.5">的效果。</tspan></text></g>
<g id="G5" class="g" transform="translate(1565 6126)"><rect width="82" height="26" rx="5"/><text x="6" y="17.5">五、通讯联络</text></g>
<g id="G5a" class="g" transform="translate(1670 5889)"><rect width="115" height="26" rx="5"/><text x="6" y="17.5">医院抢救中心：120</text></g>
<g id="G5b" class="g" transform="translate(1670 5942)"><rect width="67" height="26" rx="5"/><text x="6" y="17.5">匪警：110</text></g>
<g id="G5c" class="g" transform="translate(1670 5994)"><rect width="67" height="26" rx="5"/><text x="6" y="17.5">火警：119</text></g>
<g id="G5d" class="g" transform="translate(1670 6046)"><rect width="118" height="26" rx="5"/><text x="6" y="17.5">工地现场值班电话：</text></g>
<g id="G5e" class="g" transform="translate(1670 6099)"><rect width="106" height="26" rx="5"/><text x="6" y="17.5">项管部值班电话：</text></g>
<g id="G5e1" class="g" transform="translate(1799 6099)"><rect width="105" height="26" rx="5"/><text x="6" y="17.5">主要管理人员电话</text></g>
<g id="G5f" class="g" transform="translate(1670 6151)"><rect width="82" height="26" rx="5"/><text x="6" y="17.5">项目负责人：</text></g>
<g id="G5g" class="g" transform="translate(1670 6204)"><rect width="58" height="26" rx="5"/><text x="6" y="17.5">安全员：</text></g>
<g id="G5h" class="g" transform="translate(1670 6256)"><rect width="82" height="26" rx="5"/><text x="6" y="17.5">技术负责人：</text></g>
<g id="G5i" class="g" transform="translate(1670 6309)"><rect width="58" height="26" rx="5"/><text x="6" y="17.5">施工员：</text></g>
<g id="G5j" class="g" transform="translate(1670 6361)"><rect width="82" height="26" rx="5"/><text x="6" y="17.5">文明施工员：</text></g>
<g id="G6" class="g" transform="translate(1565 6505)"><rect width="82" height="26" rx="5"/><text x="6" y="17.5">六、注意事项</text></g>
<g id="G6a" class="g" transform="translate(1670 6414.75)"><rect width="248" height="56.5" rx="5"/><text x="6" y="17.25">1、高温中暑事故发生时，必须现场组织人员<tspan x="6" dy="15.5">进行全力抢救，视情况拨打120急救电话和马</tspan><tspan x="6" dy="15.5">上通知有关负责人。</tspan></text></g>
<g id="G6b" class="g" transform="translate(1670 6498)"><rect width="248" height="41" rx="5"/><text x="6" y="17.25">2、如果患者昏迷则需侧躺送医院救治，以免<tspan x="6" dy="15.5">通气不良导致伤员病情加剧。</tspan></text></g>
<g id="G6c" class="g" transform="translate(1670 6565.75)"><rect width="248" height="56.5" rx="5"/><text x="6" y="17.25">3、重症中暑者要住院观察，根据医嘱可静脉<tspan x="6" dy="15.5">输液，待病情好转后，再吃些米汤、面条等易</tspan><tspan x="6" dy="15.5">消化食物。</tspan></text></g>

<g id="P1" class="p" transform="translate(463 1532.5)"><rect width="249" height="41" rx="5"/><text x="6" y="17.25">为保障员工职业健康，预防中暑影响员工身体<tspan x="6" dy="15.5">健康，特制定本预案。</tspan></text></g>
<g id="P2" class="p" transform="translate(558 1653)"><rect width="154" height="26" rx="5"/><text x="6" y="17.5">一、应急领导小组人员名单</text></g>
<g id="P2a" class="p" transform="translate(478 1600)"><rect width="58" height="26" rx="5"/><text x="6" y="17.5">组长：__</text></g>
<g id="P2b" class="p" transform="translate(477 1653)"><rect width="59" height="26" rx="5"/><text x="6" y="17.5">副组长：</text></g>
<g id="P2c" class="p" transform="translate(488 1705)"><rect width="48" height="26" rx="5"/><text x="6" y="17.5">组员：</text></g>
<g id="P3" class="p" transform="translate(547 1810)"><rect width="165" height="26" rx="5"/><text x="6" y="17.5">二、应急领导小组办公地点：</text></g>
<g id="P3a" class="p" transform="translate(346 1758)"><rect width="177" height="26" rx="5"/><text x="6" y="17.5">应急办公室设在项目部办公室。</text></g>
<g id="P3b" class="p" transform="translate(477 1810)"><rect width="46" height="26" rx="5"/><text x="6" y="17.5">电话：</text></g>
<g id="P3b1" class="p" transform="translate(337 1810)"><rect width="117" height="26" rx="5"/><text x="6" y="17.5">南京市医院电话：__</text></g>
<g id="P3c" class="p" transform="translate(466 1863)"><rect width="57" height="26" rx="5"/><text x="6" y="17.5">__电话：</text></g>
<g id="P4" class="p" transform="translate(582 1931)"><rect width="130" height="26" rx="5"/><text x="6" y="17.5">三、预案的启动与终止</text></g>
<g id="P4a" class="p" transform="translate(311 1915.75)"><rect width="248" height="56.5" rx="5"/><text x="6" y="17.25">夏季室外气温在37°C以上，由应急组长__宣<tspan x="6" dy="15.5">布启动应急预案。室外气温连续15天底于37</tspan><tspan x="6" dy="15.5">°C以下，由应急组长宣布防暑预案终止。</tspan></text></g>
<g id="P5" class="p" transform="translate(594 2006)"><rect width="118" height="26" rx="5"/><text x="6" y="17.5">四、出现中暑的症状</text></g>
<g id="P5a" class="p" transform="translate(322 1999)"><rect width="249" height="41" rx="5"/><text x="6" y="17.25">在夏季高温季节出现头疼、头昏、呕吐、恶心<tspan x="6" dy="15.5">等症状时，可判断为中暑。</tspan></text></g>
<g id="P6" class="p" transform="translate(618 2313)"><rect width="94" height="26" rx="5"/><text x="6" y="17.5">五、应急措施：</text></g>
<g id="P6a" class="p" transform="translate(346 2066.75)"><rect width="249" height="56.5" rx="5"/><text x="6" y="17.25">1、应急组长宣布启动防暑应急预案，由__负<tspan x="6" dy="15.5">责制订新的施工作业时间，作业时间必须避开</tspan><tspan x="6" dy="15.5">中午高温。</tspan></text></g>
<g id="P6b" class="p" transform="translate(346 2149.5)"><rect width="249" height="41" rx="5"/><text x="6" y="17.25">2、__、__负责给员工宿舍购买安装风扇等降<tspan x="6" dy="15.5">温设备。</tspan></text></g>
<g id="P6c" class="p" transform="translate(346 2217.75)"><rect width="249" height="56.5" rx="5"/><text x="6" y="17.25">3、__、__做好夏季防暑知识宣传，以告员工<tspan x="6" dy="15.5">信、黑板报等形式向员工传授各种预防中暑的</tspan><tspan x="6" dy="15.5">措施。</tspan></text></g>
<g id="P6d" class="p" transform="translate(346 2301)"><rect width="249" height="41" rx="5"/><text x="6" y="17.25">4、__负责向施工一线员工发放防暑药品，如<tspan x="6" dy="15.5">人丹、菊花茶、风油精。</tspan></text></g>
<g id="P6e" class="p" transform="translate(346 2369.25)"><rect width="249" height="56.5" rx="5"/><text x="6" y="17.25">5、由__、__、监督项目部及各队食堂，要求<tspan x="6" dy="15.5">每天给员工做绿豆汤等防暑降温食品，工地有</tspan><tspan x="6" dy="15.5">供应开水设备。</tspan></text></g>
<g id="P6f" class="p" transform="translate(346 2452.25)"><rect width="249" height="56.5" rx="5"/><text x="6" y="17.25">6、员工出现中暑时，立即向应急小组汇报，<tspan x="6" dy="15.5">组长根据中暑情况组织应急小组部分、全部及</tspan><tspan x="6" dy="15.5">项目其它人员进行应急处理。</tspan></text></g>
<g id="P6g" class="p" transform="translate(346 2535)"><rect width="249" height="41" rx="5"/><text x="6" y="17.25">7、小组其他成员为机动人员，做好配合工作<tspan x="6" dy="15.5">。</tspan></text></g>
<g id="P7" class="p" transform="translate(594 2629)"><rect width="118" height="26" rx="5"/><text x="6" y="17.5">六、对外联系电话：</text></g>
<g id="P7a" class="p" transform="translate(420 2602)"><rect width="151" height="26" rx="5"/><text x="6" y="17.5">南京市急救中心电话：120</text></g>
<g id="P7b" class="p" transform="translate(443 2655)"><rect width="128" height="26" rx="5"/><text x="6" y="17.5">南京市环保局电话：__</text></g>

<g id="L1" class="l" transform="translate(641 2739)"><rect width="71" height="26" rx="5"/><text x="6" y="17.5">一、目的：</text></g>
<g id="L1a" class="l" transform="translate(370 2708.25)"><rect width="249" height="87.5" rx="5"/><text x="6" y="17.25">为预防公司员工在高温气候环境下作业出现中<tspan x="6" dy="15.5">暑现象，保证公司生产顺利进行，确保员工出</tspan><tspan x="6" dy="15.5">现中暑等紧急情况时，能迅速有效的.启动应</tspan><tspan x="6" dy="15.5">急救援工作，最大限度地保障员工的身体和生</tspan><tspan x="6" dy="15.5">命安全，特制定本预案。</tspan></text></g>
<g id="L2" class="l" transform="translate(582 2845)"><rect width="130" height="26" rx="5"/><text x="6" y="17.5">二、职责及适用范围：</text></g>
<g id="L2a" class="l" transform="translate(311 2822)"><rect width="248" height="72" rx="5"/><text x="6" y="17.25">公司生产技术部为预案执行责任部门，本预案<tspan x="6" dy="15.5">适用公司所有部门及人员，重点防范单位是：</tspan><tspan x="6" dy="15.5">生产车间、食堂、储罐区以及公司内雇佣施工</tspan><tspan x="6" dy="15.5">人员等。</tspan></text></g>
<g id="L3" class="l" transform="translate(594 2943)"><rect width="118" height="27" rx="5"/><text x="6" y="18">三、应急预案启动：</text></g>
<g id="L3a" class="l" transform="translate(322 2920.5)"><rect width="249" height="72" rx="5"/><text x="6" y="17.25">以当日报刊、天气预报等报出的当日最高气温<tspan x="6" dy="15.5">为依据，连续三天最高气温在37°C以上或当</tspan><tspan x="6" dy="15.5">日最高气温达38°C时自动启动应急预案，公</tspan><tspan x="6" dy="15.5">司所有部门按应急预案执行各项工作措施。</tspan></text></g>
<g id="L4" class="l" transform="translate(605 3559)"><rect width="107" height="26" rx="5"/><text x="6" y="17.5">四、应急预案实施</text></g>
<g id="L4a" class="l" transform="translate(334 3017.75)"><rect width="249" height="180.5" rx="5"/><text x="6" y="17.25">1、防暑降温保障小组：夏季施工过程中，因<tspan x="6" dy="15.5">作业时，露天作业环境较多；人员作业分布区</tspan><tspan x="6" dy="15.5">域复杂、多变；劳动强度大等方面的影响，给</tspan><tspan x="6" dy="15.5">工程在夏季施工来了诸多不便。为保障劳动者</tspan><tspan x="6" dy="15.5">的合法权益与生命、财产安全，为作业人员营</tspan><tspan x="6" dy="15.5">造一个有保障、舒适的环境，在作业人员发生</tspan><tspan x="6" dy="15.5">高温不良反应时，由组长立即组织该组成员，</tspan><tspan x="6" dy="15.5">对事故人员进行转移、与控制，防止周边施工</tspan><tspan x="6" dy="15.5">作业现场事故人员的增加。使应急行动具有更</tspan><tspan x="6" dy="15.5">强的针对性，提高行动的效率。以免造成巨大</tspan><tspan x="6" dy="15.5">的事故损失。</tspan></text></g>
<g id="L4b" class="l" transform="translate(334 3223.25)"><rect width="249" height="87.5" rx="5"/><text x="6" y="17.25">2、信息联络员：负责了解人员伤亡情况和经<tspan x="6" dy="15.5">济损失及紧急情况影响范围，每天组织收集天</tspan><tspan x="6" dy="15.5">气温度状况，然后采取必要的防范措施，并对</tspan><tspan x="6" dy="15.5">已采取的措施和事态发展情况，及时向上级报</tspan><tspan x="6" dy="15.5">告及有关部门的联络。</tspan></text></g>
<g id="L4c" class="l" transform="translate(334 3414)"><rect width="249" height="41" rx="5"/><text x="6" y="17.25">3、现场医疗救护小组：当事故发生时，由组<tspan x="6" dy="15.5">长组织组员对伤员进行现场分类和</tspan></text></g>
<g id="L4c1" class="l" transform="translate(62 3337.5)"><rect width="249" height="103" rx="5"/><text x="6" y="17.25">急救处理，负责在第一时间对伤员实施有效救<tspan x="6" dy="15.5">护；并及时向医院转送。救护人员的主要职责</tspan><tspan x="6" dy="15.5">是：进入事故发生区抢救伤员；指导危害区内</tspan><tspan x="6" dy="15.5">人员进行自救、互救活动；集中、清点、输送</tspan><tspan x="6" dy="15.5">、收治伤员。根据具体情况，迅速制定应急处</tspan><tspan x="6" dy="15.5">理方案并组织实施。</tspan></text></g>
<g id="L4c2" class="l" transform="translate(134 3466)"><rect width="177" height="26" rx="5"/><text x="6" y="17.5">主要药品及医疗救护器具如下：</text></g>
<g id="L4d" class="l" transform="translate(334 3519.25)"><rect width="249" height="56.5" rx="5"/><text x="6" y="17.25">1、药品：感冒药、发烧药、腹泻药、消炎药<tspan x="6" dy="15.5">等治疗药品及仁丹、十滴水、正气水、菊花茶</tspan><tspan x="6" dy="15.5">、降火凉茶、绿色保健食品等。</tspan></text></g>
<g id="L4e" class="l" transform="translate(334 3601.5)"><rect width="249" height="41" rx="5"/><text x="6" y="17.25">2、救护器具：单架、救护汽车、小型氧气瓶<tspan x="6" dy="15.5">、听筒、病床、毛巾、药用药箱、冷冻柜</tspan></text></g>
<g id="L4f" class="l" transform="translate(334 3670.25)"><rect width="249" height="56.5" rx="5"/><text x="6" y="17.25">3、后勤保障小组：由组长负责组织调集抢险<tspan x="6" dy="15.5">人员、物资设备，督促检查各项抢险救灾措施</tspan><tspan x="6" dy="15.5">落实到位。</tspan></text></g>
<g id="L4g" class="l" transform="translate(457 4023)"><rect width="126" height="26" rx="5"/><text x="6" y="17.5">4、公司其余部门职责</text></g>
<g id="L4g1" class="l" transform="translate(186 3753.5)"><rect width="250" height="72" rx="5"/><text x="6" y="17.25">（1）维修管理部门应加强夏季水电供应的管<tspan x="6" dy="15.5">理，保证车间生产的用电和用水需要。如遇特</tspan><tspan x="6" dy="15.5">殊情况需停电、停水，应事先通知相关部门，</tspan><tspan x="6" dy="15.5">并根据具体情况制订相应的预防方案。</tspan></text></g>
<g id="L4g2" class="l" transform="translate(186 3851)"><rect width="250" height="134" rx="5"/><text x="6" y="17.25">（2）广泛宣传防治中暑的科学知识，如利用<tspan x="6" dy="15.5">广播、影视、报刊、互联网、手册等多种形式</tspan><tspan x="6" dy="15.5">宣传防暑降温知识，增强公众的自我防护意识</tspan><tspan x="6" dy="15.5">。使员工掌握防暑降温的基本常识；车间主任</tspan><tspan x="6" dy="15.5">及班组长每天应加强车间生产情况的巡回检查</tspan><tspan x="6" dy="15.5">，及时了解车间的高温环境和职工身体状况，</tspan><tspan x="6" dy="15.5">及时处理出现的问题，将事故苗头消灭在萌芽</tspan><tspan x="6" dy="15.5">状态。</tspan></text></g>
<g id="L4g3" class="l" transform="translate(186 4010.5)"><rect width="250" height="103" rx="5"/><text x="6" y="17.25">（3）总务科医务室预先采购一批防暑降温药<tspan x="6" dy="15.5">品，如常见的藿香正气水或胶囊等，按要求将</tspan><tspan x="6" dy="15.5">药品分发给车间岗位操作人员。应为所雇佣施</tspan><tspan x="6" dy="15.5">工人员停工遮阳伞、草帽等劳动防护用品。公</tspan><tspan x="6" dy="15.5">司应保证员工有固定饮水处，并设立饮水机，</tspan><tspan x="6" dy="15.5">保证每天有充足的饮用水源供应。</tspan></text></g>
<g id="L4g4" class="l" transform="translate(186 4139)"><rect width="250" height="72" rx="5"/><text x="6" y="17.25">（4）车间操作属于高温作业岗位，应配备有<tspan x="6" dy="15.5">效的降温风扇。每天上午10：30分和下午2：</tspan><tspan x="6" dy="15.5">30分应允许员工到阴凉通风处或空调室内休</tspan><tspan x="6" dy="15.5">息20-30分钟。</tspan></text></g>
<g id="L4g5" class="l" transform="translate(186 4237.75)"><rect width="250" height="87.5" rx="5"/><text x="6" y="17.25">（5）公司食堂在高温期间每天应向生产车间<tspan x="6" dy="15.5">操作员工供应凉茶两次，时间分别在每天上午</tspan><tspan x="6" dy="15.5">10：30分和下午2点钟。每天午餐中应有足量</tspan><tspan x="6" dy="15.5">的绿豆汤或紫菜鸡蛋汤。具体由公司办公室负</tspan><tspan x="6" dy="15.5">责落实。</tspan></text></g>
<g id="L5" class="l" transform="translate(594 4473)"><rect width="118" height="26" rx="5"/><text x="6" y="17.5">五、中暑施救方法：</text></g>
<g id="L5a" class="l" transform="translate(322 4351.25)"><rect width="249" height="118.5" rx="5"/><text x="6" y="17.25">1、轻度患者：公司员工在正常作业过程时出<tspan x="6" dy="15.5">现头昏、乏力、目炫等现象时，应责令其立即</tspan><tspan x="6" dy="15.5">停止作业，防止出现二次事故，其他周边员工</tspan><tspan x="6" dy="15.5">应将症状人员安排到阴凉、通风良好的区域或</tspan><tspan x="6" dy="15.5">空调室内休息，供应其凉水、防暑降温药品、</tspan><tspan x="6" dy="15.5">湿毛巾，或用凉水或酒精擦身等。并通知车间</tspan><tspan x="6" dy="15.5">或部门领导。</tspan></text></g>
<g id="L5b" class="l" transform="translate(322 4495)"><rect width="249" height="134" rx="5"/><text x="6" y="17.25">2、严重患者：（昏倒、休克、身体严重缺水<tspan x="6" dy="15.5">等）公司员工出现中暑时，最先发现人员应立</tspan><tspan x="6" dy="15.5">即通知车间或部门领导，并及时将事故人员转</tspan><tspan x="6" dy="15.5">移至阴凉通风区域，观察其症状，以便于医疗</tspan><tspan x="6" dy="15.5">人员来临时掌握第一手医治资料。公司办公室</tspan><tspan x="6" dy="15.5">立即组织救援人员在第一时间将中暑患者转移</tspan><tspan x="6" dy="15.5">到最近的医院进行观察、治疗。并随时上报公</tspan><tspan x="6" dy="15.5">司最新情况。</tspan></text></g>
<g id="L6" class="l" transform="translate(594 4795)"><rect width="118" height="26" rx="5"/><text x="6" y="17.5">六、中暑临床表现：</text></g>
<g id="L6a" class="l" transform="translate(322 4757)"><rect width="249" height="103" rx="5"/><text x="6" y="17.25">轻度中暑：临床表现为头昏、头痛、面色潮红<tspan x="6" dy="15.5">、口渴、大量出汗、全身疲乏、心悸、脉搏快</tspan><tspan x="6" dy="15.5">速、注意力不集中、动作不协调等症状，体温</tspan><tspan x="6" dy="15.5">升高至38.5°C以上。重度中暑：包括热射病、</tspan><tspan x="6" dy="15.5">热痉挛和热衰竭三种类型，也可出现混合型。</tspan><tspan x="6" dy="15.5">其中：</tspan></text></g>
<g id="L6a1" class="l" transform="translate(51 4655)"><rect width="250" height="72" rx="5"/><text x="6" y="17.25">（1）热射病(包括日射病)亦称中暑性高热，<tspan x="6" dy="15.5">其特点是在高温环境中突然发病，体温高达4</tspan><tspan x="6" dy="15.5">0°C以上，疾病早期大量出汗，继之"无汗"，</tspan><tspan x="6" dy="15.5">可伴有皮肤干热及不同程度的意识障碍等。</tspan></text></g>
<g id="L6a2" class="l" transform="translate(51 4754.75)"><rect width="250" height="56.5" rx="5"/><text x="6" y="17.25">（2）热痉挛主要表现为明显的肌痉挛，伴有<tspan x="6" dy="15.5">收缩痛。好发于活动较多的四肢肌肉及腹肌等</tspan><tspan x="6" dy="15.5">，尤以腓肠肌为著。</tspan></text></g>
<g id="L6a3" class="l" transform="translate(51 4837)"><rect width="250" height="26" rx="5"/><text x="6" y="17.5">常呈对称性。时而发作，时而缓解。体温正常。</text></g>
<g id="L6a4" class="l" transform="translate(51 4889.5)"><rect width="250" height="72" rx="5"/><text x="6" y="17.25">（3）热衰竭：起病迅速，主要临床表现为头<tspan x="6" dy="15.5">昏、头痛、多汗、口渴、恶心、呕吐，皮肤湿冷</tspan><tspan x="6" dy="15.5">，血压下降，晕厥或神志模糊。体温正常或稍高</tspan><tspan x="6" dy="15.5">。</tspan></text></g>
<g id="L7" class="l" transform="translate(547 5152)"><rect width="165" height="26" rx="5"/><text x="6" y="17.5">七、紧急事件应急处理流程：</text></g>
<g id="L7a" class="l" transform="translate(394 5083)"><rect width="129" height="26" rx="5"/><text x="6" y="17.5">正常工作时间及假日：</text></g>
<g id="L7a1" class="l" transform="translate(122 4988.25)"><rect width="249" height="56.5" rx="5"/><text x="6" y="17.25">发现人员——通知车间或部门领导——<tspan x="6" dy="15.5">公司办公室——安排车辆送医院救治—</tspan><tspan x="6" dy="15.5">—处理</tspan></text></g>
<g id="L7a2" class="l" transform="translate(122 5071.75)"><rect width="249" height="56.5" rx="5"/><text x="6" y="17.25">发现人员——通知车间班组长—<tspan x="6" dy="15.5">—值班领导——送医院救治——处</tspan><tspan x="6" dy="15.5">理</tspan></text></g>
<g id="L7a3" class="l" transform="translate(122 5154.5)"><rect width="249" height="41" rx="5"/><text x="6" y="17.25">非正常工作时间（晚上、双休日）</text></g>
<g id="L7b" class="l" transform="translate(418 5222)"><rect width="105" height="26" rx="5"/><text x="6" y="17.5">公司办公室电话：</text></g>
<g id="L7b1" class="l" transform="translate(279 5222)"><rect width="116" height="26" rx="5"/><text x="6" y="17.5">急救中心电话：120</text></g>
</g>
</svg>
